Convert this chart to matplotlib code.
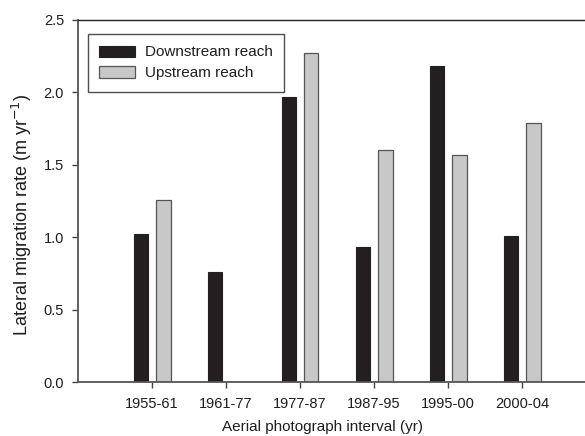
import matplotlib
matplotlib.use('Agg')
import matplotlib.pyplot as plt
import numpy as np

# data
intervals = ['1955-61', '1961-77', '1977-87', '1987-95', '1995-00', '2000-04']
downstream = [1.02, 0.76, 1.97, 0.93, 2.18, 1.01]
upstream = [1.26, np.nan, 2.27, 1.60, 1.57, 1.79]

plt.rcParams['font.family'] = ['Liberation Sans', 'DejaVu Sans']
text_col = '#1e1e1e'

fig = plt.figure(figsize=(5.85, 4.36), dpi=100)
ax_w, ax_h = 518, 362
ax = fig.add_axes([78 / 585, 1 - 382 / 436, ax_w / 585, ax_h / 436])

x = np.arange(1, len(intervals) + 1)
w = 0.19
off = 0.155
ax.bar(x - off, downstream, width=w, color='#231f20', edgecolor='#231f20',
       linewidth=0.8, label='Downstream reach')
ax.bar(x + off, upstream, width=w, color='#c8c8c9', edgecolor='#555555',
       linewidth=0.9, label='Upstream reach')

ax.set_xlim(0, 7)
ax.set_ylim(0, 2.5)
ax.set_xticks(x)
ax.set_xticklabels(intervals)
ax.set_yticks([0.0, 0.5, 1.0, 1.5, 2.0, 2.5])
ax.set_yticklabels(['0.0', '0.5', '1.0', '1.5', '2.0', '2.5'])

ax.tick_params(axis='both', direction='out', length=4, width=1,
               colors='#444444', labelcolor=text_col, labelsize=10.5)
ax.tick_params(axis='x', pad=7)
ax.tick_params(axis='y', pad=6)

for s in ['left', 'bottom']:
    ax.spines[s].set_color('#555555')
    ax.spines[s].set_linewidth(1.3)
ax.spines['top'].set_color('#222222')
ax.spines['top'].set_linewidth(1.0)
ax.spines['right'].set_visible(False)

ax.set_xlabel('Aerial photograph interval (yr)', fontsize=11, color=text_col)
ax.set_ylabel('Lateral migration rate (m yr$^{-1}$)', fontsize=13, color=text_col)
# label positions as in the original
ax.xaxis.set_label_coords((323 - 78) / ax_w, -(427 - 382) / ax_h)
ax.yaxis.set_label_coords((22 - 78) / ax_w, (382 - 215) / ax_h)
ax.xaxis.label.set_va('center')
ax.yaxis.label.set_va('center')

leg = ax.legend(loc='upper left', bbox_to_anchor=(10 / ax_w, 1 - 14 / ax_h),
                fontsize=11, frameon=True, fancybox=False, handlelength=2.35,
                handleheight=0.75, borderpad=0.75, labelspacing=0.45, handletextpad=0.6,
                borderaxespad=0)
leg.get_frame().set_edgecolor('#222222')
leg.get_frame().set_linewidth(1.0)
for t in leg.get_texts():
    t.set_color(text_col)

fig.savefig('out.png', dpi=100)
